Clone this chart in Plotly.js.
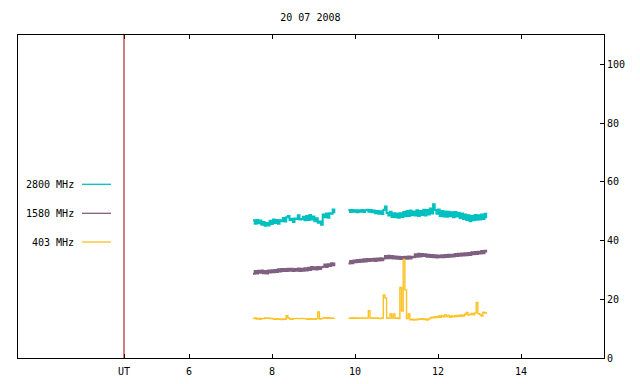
<!DOCTYPE html>
<html>
<head>
<meta charset="utf-8">
<script src="https://cdn.plot.ly/plotly-3.0.1.min.js"></script>
<style>html,body{margin:0;padding:0;background:#fff;}#chart{width:640px;height:384px;}</style>
</head>
<body>
<div id="chart"></div>
<script>
// Time in hours UT (shared by the three series); null values break the line at the gap
const timeUT = [
 7.54,7.58,7.62,7.66,7.70,7.74,7.78,7.82,7.86,7.90,
 7.94,7.98,8.02,8.06,8.10,8.14,8.18,8.22,8.26,8.30,
 8.34,8.38,8.42,8.46,8.50,8.54,8.58,8.62,8.66,8.70,
 8.74,8.78,8.82,8.86,8.90,8.94,8.98,9.02,9.06,9.10,
 9.14,9.18,9.22,9.26,9.30,9.34,9.38,9.42,9.46,9.50,
 9.67,
 9.84,9.88,9.92,9.96,10.00,10.04,10.08,10.12,10.16,10.20,
 10.24,10.28,10.32,10.36,10.40,10.44,10.48,10.52,10.56,10.60,
 10.64,10.68,10.72,10.76,10.80,10.84,10.88,10.92,10.96,11.00,
 11.04,11.08,11.12,11.16,11.20,11.24,11.28,11.32,11.36,11.40,
 11.44,11.48,11.52,11.56,11.60,11.64,11.68,11.72,11.76,11.80,
 11.84,11.88,11.92,11.96,12.00,12.04,12.08,12.12,12.16,12.20,
 12.24,12.28,12.32,12.36,12.40,12.44,12.48,12.52,12.56,12.60,
 12.64,12.68,12.72,12.76,12.80,12.84,12.88,12.92,12.96,13.00,
 13.04,13.08,13.12,13.16
];

const flux2800 = [
 46.9,45.7,47.0,45.9,46.8,45.4,46.3,45.0,46.0,45.1,
 46.7,45.6,47.2,46.0,47.0,45.7,46.9,46.6,47.7,46.5,
 47.9,48.4,47.0,47.4,46.3,47.5,47.3,48.6,47.2,47.3,
 48.1,46.9,48.4,47.0,48.7,47.2,48.2,46.6,47.6,46.1,
 46.5,45.4,48.9,47.9,49.2,47.8,49.3,49.1,50.6,49.3,
 null,
 50.4,49.7,50.4,49.8,50.3,49.6,50.3,49.8,50.4,49.7,
 50.3,50.5,49.8,50.4,49.6,50.2,49.3,50.1,49.1,50.0,
 49.0,50.5,51.6,49.4,48.5,49.8,48.0,49.3,47.9,49.2,
 47.8,49.3,48.0,49.7,48.3,50.1,48.4,50.2,48.6,49.9,
 48.5,50.3,48.4,50.1,48.7,50.5,48.5,50.4,48.9,50.9,
 49.2,52.4,50.4,49.1,50.6,48.4,50.1,48.2,49.9,48.1,
 49.8,48.3,49.6,47.9,49.7,48.2,49.5,47.7,49.2,47.3,
 48.9,47.0,48.6,46.6,48.4,46.9,48.7,47.1,48.6,47.2,
 48.9,47.3,49.1,47.6
];

const flux1580 = [
 28.7,29.6,28.8,29.7,29.0,29.8,28.9,29.6,28.8,29.8,
 29.1,29.9,29.2,30.0,29.3,30.2,29.5,30.3,29.6,30.3,
 29.6,30.4,29.7,30.4,29.6,30.3,29.7,30.5,29.6,30.4,
 29.7,30.6,29.8,30.7,30.0,31.0,30.2,30.9,30.1,31.0,
 30.3,30.9,31.1,31.8,31.0,31.9,31.3,32.3,31.6,32.5,
 null,
 32.2,33.0,32.3,33.2,32.6,33.4,32.7,33.5,32.8,33.6,
 32.9,33.7,33.0,33.7,33.1,33.8,33.0,33.9,33.2,34.0,
 33.3,33.9,34.7,34.0,34.8,34.0,34.7,33.9,34.6,33.8,
 34.5,33.7,34.4,33.7,34.5,33.8,34.6,33.9,34.5,34.3,
 35.3,34.5,35.5,34.6,35.4,34.7,35.3,34.5,35.2,34.4,
 35.1,34.3,35.0,34.2,34.9,34.3,35.0,34.3,35.1,34.4,
 35.2,34.5,35.2,34.6,35.4,34.7,35.5,34.8,35.6,34.9,
 35.7,35.0,35.8,35.1,36.0,35.3,36.1,35.4,36.2,35.6,
 36.4,35.7,36.5,35.9
];

const flux403 = [
 13.4,13.6,13.3,13.5,13.2,13.5,13.4,13.6,13.5,13.6,
 13.4,13.5,13.3,13.2,13.4,13.2,13.3,13.1,13.3,13.2,
 14.4,13.6,13.3,13.2,13.4,13.4,13.5,13.4,13.4,13.5,
 13.4,13.4,13.3,13.2,13.4,13.2,13.3,13.2,13.4,15.7,
 13.3,13.4,13.6,13.7,13.5,13.7,13.5,13.6,13.5,13.6,
 null,
 13.5,13.6,13.5,13.7,13.5,13.6,13.5,13.6,13.6,13.5,
 13.6,13.6,16.1,13.6,13.5,13.6,13.5,13.6,13.5,13.4,
 13.6,21.5,20.4,13.6,13.5,15.0,13.6,15.0,13.5,13.6,
 13.4,24.0,16.0,33.6,23.2,13.4,15.0,13.0,13.2,12.9,
 13.1,13.0,13.3,13.2,13.4,13.1,13.3,12.9,13.3,13.6,
 13.9,13.7,14.1,13.8,14.3,13.9,14.5,14.0,14.7,14.1,
 14.5,13.9,14.3,14.0,14.4,14.1,14.6,14.2,14.7,14.3,
 14.9,15.5,14.6,14.8,15.2,14.7,15.3,18.9,15.1,14.8,
 14.3,15.6,15.3,15.7
];

const seriesNames = ["2800 MHz", "1580 MHz", "403 MHz"];
const seriesColors = ["#00c0c0", "#806080", "#ffc020"];
const tickHours = [4.43, 6, 8, 10, 12, 14];
const tickLabels = ["UT", "6", "8", "10", "12", "14"];
const utMarker = 4.43;
const yTicks = [0, 20, 40, 60, 80, 100];

const FONT = "DejaVu Sans Mono, monospace";
const seriesData = [flux2800, flux1580, flux403];
const lineWidths = [2, 2, 1.4];

const traces = seriesData.map((ys, i) => ({
  x: timeUT, y: ys, type: "scatter", mode: "lines",
  name: seriesNames[i], connectgaps: false,
  line: {color: seriesColors[i], width: lineWidths[i], shape: "hv"},
  hoverinfo: "skip"
}));

// Legend drawn as in the reference: labels left of short lines
const L = 18, R = 604, T = 35, B = 358;
const px2x = p => (p - L) / (R - L);
const px2y = p => (B - p) / (B - T);
const legendY = [184.3, 213.3, 242];
const annotations = seriesNames.map((n, i) => ({
  text: n, xref: "paper", yref: "paper", x: px2x(76), y: px2y(legendY[i]),
  xanchor: "right", yanchor: "middle", showarrow: false,
  font: {family: FONT, size: 10, color: "#000"}
}));
const shapes = seriesNames.map((n, i) => ({
  type: "line", xref: "paper", yref: "paper",
  x0: px2x(82), x1: px2x(111), y0: px2y(legendY[i]), y1: px2y(legendY[i]),
  line: {color: seriesColors[i], width: 1.3}
}));
shapes.push({
  type: "line", xref: "x", yref: "paper", x0: utMarker, x1: utMarker, y0: 0, y1: 1,
  line: {color: "#a00000", width: 1}
});

const layout = {
  width: 640, height: 384,
  margin: {l: L, r: 640 - R, t: T, b: 384 - B, pad: 0},
  paper_bgcolor: "#fff", plot_bgcolor: "#fff",
  showlegend: false,
  font: {family: FONT, size: 10, color: "#000"},
  title: {text: "20 07 2008", x: 0.485, xanchor: "center", y: 1 - 17/384, yanchor: "middle",
          yref: "container", font: {family: FONT, size: 10, color: "#000"}},
  xaxis: {
    range: [1.875, 16], tickmode: "array", tickvals: tickHours, ticktext: tickLabels,
    ticks: "inside", ticklen: 4, tickcolor: "#000", tickwidth: 1,
    showline: true, linecolor: "#000", linewidth: 1, mirror: "ticks",
    showgrid: false, zeroline: false, fixedrange: true, ticklabelstandoff: 4,
    tickfont: {family: FONT, size: 10, color: "#000"}
  },
  yaxis: {
    range: [0, 110], side: "right", tickmode: "array", tickvals: yTicks,
    ticks: "inside", ticklen: 4, tickcolor: "#000", tickwidth: 1,
    showline: true, linecolor: "#000", linewidth: 1, mirror: true,
    showgrid: false, zeroline: false, fixedrange: true,
    tickfont: {family: FONT, size: 10, color: "#000"}
  },
  annotations: annotations,
  shapes: shapes
};

Plotly.newPlot("chart", traces, layout, {displayModeBar: false, staticPlot: true});
</script>
</body>
</html>
